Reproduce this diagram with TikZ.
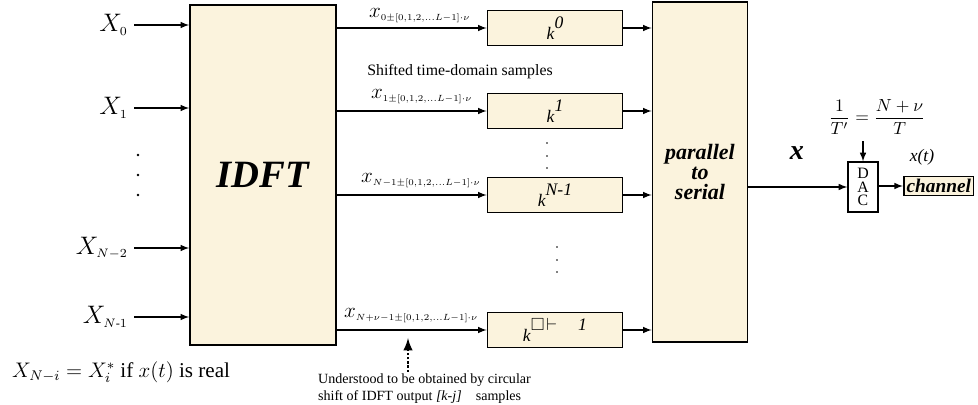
\documentclass[tikz,border=0pt]{standalone}
\usepackage{amsmath,amssymb}
\usepackage{fontspec}
\setmainfont{Liberation Serif}
\usepackage{tikz}
\usetikzlibrary{positioning}

\definecolor{boxfill}{RGB}{251,243,221}

\newcommand{\kexp}[1]{{\itshape k}\raisebox{1.3ex}{\itshape #1}}
\newcommand{\shx}[1]{x_{\scalebox{0.85}{$\scriptscriptstyle #1\pm[0,1,2,\ldots L-1]\cdot\nu$}}}

\begin{document}
\begin{tikzpicture}[x=0.02cm,y=-0.02cm,
    blk/.style={draw, line width=1pt, fill=boxfill, inner sep=2pt},
    buf/.style={blk, minimum width=2.7cm, minimum height=0.7cm},
    sig/.style={-latex, line width=0.7pt},
    inlab/.style={anchor=east, font=\fontsize{14}{16}\selectfont},
    sublab/.style={anchor=south west, inner sep=0.5pt, font=\fontsize{12}{14}\selectfont}]
    \useasboundingbox (0,0) rectangle (978,405);

    % Define block parameters
    \def\blkh{6.8cm}

    % Draw the two large blocks
    \node[blk, minimum width=2.92cm, minimum height=\blkh] (idft) at (263,175)
        {\fontsize{22}{24}\selectfont\bfseries\itshape IDFT};
    \node[blk, minimum width=1.9cm, minimum height=\blkh, align=center,
        font=\fontsize{12.5}{11.5}\selectfont\bfseries\itshape] (ps) at (700,172)
        {parallel\\to\\serial};

    % Inputs of the IDFT
    \node[inlab] (in0) at (134,25) {$X_{\scriptscriptstyle 0}$};
    \node[inlab] (in1) at (134,108) {$X_{\scriptscriptstyle 1}$};
    \node[inlab] (in2) at (134,248) {$X_{\scriptscriptstyle N-2}$};
    \node[inlab] (in3) at (134,317) {$X_{\scriptscriptstyle N\text{-}1}$};
    \foreach \n in {0,1,2,3}
        \draw[sig] (in\n.east) -- (idft.west |- in\n.east);
    \foreach \y in {155,175,195}
        \fill (138,\y) circle (1.3);

    % Shifted sample buffers
    \node[buf] (buf0) at (555,28) {\kexp{0}};
    \node[buf] (buf1) at (555,111) {\kexp{1}};
    \node[buf] (bufN) at (555,195) {\kexp{N-1}};
    \node[buf] (bufL) at (555,330) {\kexp{$\square\!\vdash$\hspace{1.2em}1}};
    \foreach \b in {buf0,buf1,bufN,bufL} {
        \draw[sig] (idft.east |- \b.west) -- (\b.west);
        \draw[sig] (\b.east) -- (ps.west |- \b.east);
    }

    % Labels on the buffer inputs
    \node[sublab] (lab0) at (368,24) {$\shx{0}$};
    \node[sublab] (lab1) at (370,105) {$\shx{1}$};
    \node[sublab] (labN) at (360,189) {$\shx{N-1}$};
    \node[sublab] (labL) at (343,324) {$\shx{N+\nu-1}$};
    \node[font=\small] (shift) at (460,72) {Shifted time-domain samples};
    \foreach \y in {143,156,168}
        \fill (547,\y) circle (0.8);
    \foreach \y in {247,260,272}
        \fill (557,\y) circle (0.8);

    % Note below the last buffer
    \coordinate (tip) at (408,338);
    \node[anchor=north west, align=left, inner sep=1pt, font=\footnotesize] (note) at (316,372)
        {Understood to be obtained by circular\\shift of IDFT output \textit{[k-j]}\quad samples};
    \draw[-latex, densely dotted, line width=1.4pt] (tip |- note.north) -- (tip);

    % DAC and channel
    \node[draw, line width=0.8pt, fill=white, minimum width=0.6cm, minimum height=1cm,
        align=center, inner sep=1pt, font=\fontsize{9}{7.5}\selectfont] (dac) at (863,187) {D\\A\\C};
    \draw[sig] (ps.east |- dac.west) -- (dac.west);
    \node[font=\fontsize{16}{18}\selectfont\bfseries\itshape] (xs) at (797,153) {x};
    \node (rate) at (877,117) {$\dfrac{1}{T'}=\dfrac{N+\nu}{T}$};
    \draw[sig] (dac.north |- rate.south) -- (dac.north);
    \node[blk, anchor=west, minimum height=0.38cm, inner sep=1.5pt,
        font=\fontsize{11}{12}\selectfont\bfseries\itshape] (chan) at (903,186) {channel};
    \draw[sig] (dac.east |- chan.west) -- (chan.west);
    \node[font=\itshape] (xt) at (922,157) {x(t)};

    % Conjugate symmetry note
    \node[anchor=west, font=\large] (conj) at (6,372) {$X_{N-i}=X_i^*$ if $x(t)$ is real};
\end{tikzpicture}
\end{document}
